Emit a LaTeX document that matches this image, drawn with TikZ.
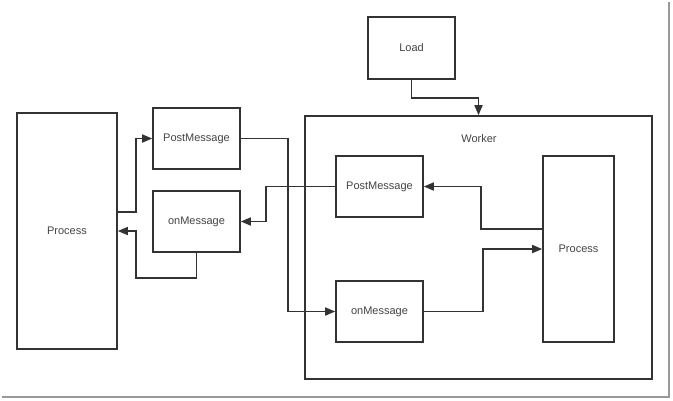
\documentclass[tikz,border=0pt]{standalone}
\usepackage{fontspec}
\setmainfont{Liberation Sans}
\usetikzlibrary{arrows.meta}
\definecolor{linec}{HTML}{333333}
\definecolor{textc}{HTML}{444444}
\tikzset{
  box/.style={draw=linec, line width=1.6bp, fill=white, inner sep=0pt,
    font=\fontsize{11bp}{13bp}\selectfont, text=textc},
  conn/.style={draw=linec, line width=1.6bp, -{Triangle[length=10bp,width=8bp]}},
}
\begin{document}
\begin{tikzpicture}[x=1bp,y=-1bp]
\useasboundingbox (0,0) rectangle (673,400);
% screenshot frame shadow
\draw[gray!80, line width=2bp] (669,2) -- (669,397) -- (2,397);
% left side
\node[box, minimum width=100bp, minimum height=236bp] (lproc) at (67,231) {Process};
\node[box, minimum width=87bp, minimum height=61bp] (lpost) at (196.5,138.5) {PostMessage};
\node[box, minimum width=87bp, minimum height=61bp] (lon) at (196.5,221.5) {onMessage};
% load
\node[box, minimum width=87bp, minimum height=62bp] (load) at (411.5,48) {Load};
% worker
\node[box, minimum width=347bp, minimum height=263bp] (worker) at (478.5,247.5) {};
\node[font=\fontsize{11bp}{13bp}\selectfont, text=textc, inner sep=0pt] (wlabel) at (479,139) {Worker};
\node[box, minimum width=87bp, minimum height=61bp] (wpost) at (379.5,186.5) {PostMessage};
\node[box, minimum width=87bp, minimum height=61bp] (won) at (379.5,311.5) {onMessage};
\node[box, minimum width=71bp, minimum height=186bp] (wproc) at (578.5,249) {Process};
% connectors
\draw[conn] ([yshift=19bp]lproc.east) -- ++(18bp,0) |- (lpost.west);
\draw[conn] (lon.south) -- ++(0,-25bp) -| ([xshift=18bp]lproc.east) -- (lproc.east);
\draw[conn] (wpost.west) -- ++(-69bp,0) |- (lon.east);
\draw[conn] (lpost.east) -- ++(47bp,0) |- (won.west);
\draw[conn] (load.south) -- ++(0,-18bp) -| (worker.north);
\draw[conn] ([yshift=20bp]wproc.west) -- ++(-61bp,0) |- (wpost.east);
\draw[conn] (won.east) -- ++(59bp,0) |- (wproc.west);
\end{tikzpicture}
\end{document}
